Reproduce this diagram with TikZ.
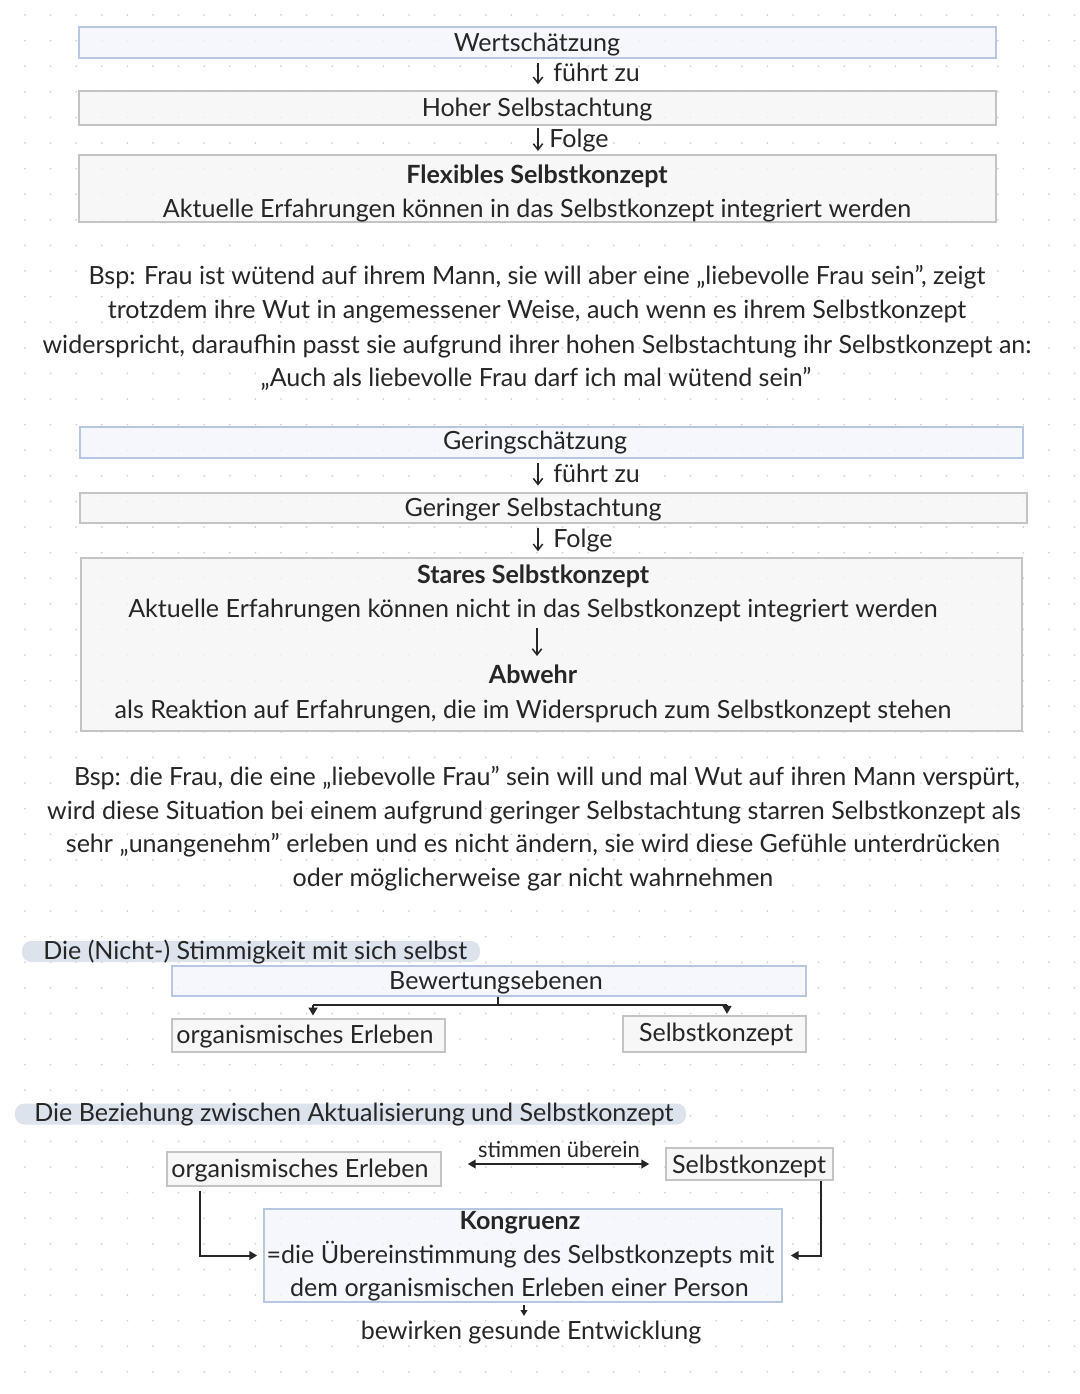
\documentclass[tikz,border=0pt]{standalone}
\usepackage{fontspec}
\setmainfont{Lato}
\usetikzlibrary{arrows.meta}
\definecolor{ink}{HTML}{262626}
\definecolor{bluebd}{HTML}{B7C7E2}
\definecolor{bluefill}{HTML}{F2F5FB}
\definecolor{graybd}{HTML}{C4C4C4}
\definecolor{grayfill}{HTML}{F5F5F5}
\definecolor{hlc}{HTML}{DDE3EC}
\definecolor{dotc}{HTML}{D2D2D2}
\begin{document}
\begin{tikzpicture}[x=0.75pt,y=-0.75pt,
  boxb/.style 2 args={draw=bluebd, fill=bluefill, fill opacity=0.75, line width=1.1pt, inner sep=0pt, minimum width={#1*0.75pt}, minimum height={#2*0.75pt}},
  boxg/.style 2 args={draw=graybd, fill=grayfill, fill opacity=0.75, line width=1.1pt, inner sep=0pt, minimum width={#1*0.75pt}, minimum height={#2*0.75pt}},
  hlbox/.style 2 args={fill=hlc, rounded corners=7pt, inner sep=0pt, minimum width={#1*0.75pt}, minimum height={#2*0.75pt}},
  txt/.style={font=\fontsize{18.8}{22}\selectfont, text=ink, inner sep=0pt, anchor=base},
  txtl/.style={txt, anchor=base west},
  small/.style={txt, font=\fontsize{16.5}{19}\selectfont},
  glypharr/.style={draw=ink, line width=1.15pt, -{Straight Barb[length=4.5pt,width=7pt]}},
  conn/.style={draw=ink, line width=1.5pt},
  connarr/.style={conn, -{Triangle[length=6pt,width=6.5pt]}},
  connboth/.style={conn, {Triangle[length=6pt,width=6.5pt]}-{Triangle[length=6pt,width=6.5pt]}}
]
\useasboundingbox (0,0) rectangle (1080,1394);
\fill[white] (0,0) rectangle (1080,1394);
% dot grid
\foreach \i in {0,...,41}{\foreach \j in {0,...,54}{\fill[dotc] (25.6*\i+25,25.6*\j+15) circle[radius=0.75pt];}}

\coordinate (ax) at (538,0);

% ---- stack 1
\node[boxb={917}{31}] (wert) at (537.5,42.5) {};
\node[txt] (wertt) at (537,52) {Wertschätzung};
\node[boxg={917}{34}] (hoher) at (537.5,108) {};
\node[txt] (hohert) at (537,117) {Hoher Selbstachtung};
\draw[glypharr, shorten <=3pt, shorten >=4.5pt] (wert.south -| ax) -- (hoher.north -| ax);
\node[txtl] (fz1) at (553,82) {führt zu};
\node[boxg={917}{67}] (flex) at (537.5,188.5) {};
\draw[glypharr, shorten <=2pt, shorten >=2.5pt] (hoher.south -| ax) -- (flex.north -| ax);
\node[txtl] (fo1) at (549,148) {Folge};
\node[txt] (flext) at (537,184) {\bfseries Flexibles Selbstkonzept};
\node[txt] (flexa) at (537,218) {Aktuelle Erfahrungen können in das Selbstkonzept integriert werden};

% ---- paragraph 1
\node[txt] (p1a) at (537,285) {Bsp: Frau ist wütend auf ihrem Mann, sie will aber eine „liebevolle Frau sein”, zeigt};
\node[txt] (p1b) at (537,319) {trotzdem ihre Wut in angemessener Weise, auch wenn es ihrem Selbstkonzept};
\node[txt] (p1c) at (537,353) {widerspricht, daraufhin passt sie aufgrund ihrer hohen Selbstachtung ihr Selbstkonzept an:};
\node[txt] (p1d) at (536,386) {„Auch als liebevolle Frau darf ich mal wütend sein”};

% ---- stack 2
\node[boxb={943}{31}] (gering) at (551.5,442.5) {};
\node[txt] (geringt) at (535,449) {Geringschätzung};
\node[boxg={947}{30}] (geringer) at (553.5,508) {};
\node[txt] (geringert) at (533,516) {Geringer Selbstachtung};
\draw[glypharr, shorten <=3pt, shorten >=5pt] (gering.south -| ax) -- (geringer.north -| ax);
\node[txtl] (fz2) at (553,482) {führt zu};
\node[boxg={941}{173}] (stares) at (551.5,644.5) {};
\draw[glypharr, shorten <=3pt, shorten >=4.5pt] (geringer.south -| ax) -- (stares.north -| ax);
\node[txtl] (fo2) at (553,547) {Folge};
\node[txt] (st1) at (533,583) {\bfseries Stares Selbstkonzept};
\node[txt] (st2) at (533,617) {Aktuelle Erfahrungen können nicht in das Selbstkonzept integriert werden};
\coordinate (sa) at (537,628);
\coordinate (sb) at (537,656);
\draw[glypharr] (sa) -- (sb);
\node[txt] (st3) at (533,683) {\bfseries Abwehr};
\node[txt] (st4) at (533,718) {als Reaktion auf Erfahrungen, die im Widerspruch zum Selbstkonzept stehen};

% ---- paragraph 2
\node[txt] (p2a) at (547,785) {Bsp: die Frau, die eine „liebevolle Frau” sein will und mal Wut auf ihren Mann verspürt,};
\node[txt] (p2b) at (534,819) {wird diese Situation bei einem aufgrund geringer Selbstachtung starren Selbstkonzept als};
\node[txt] (p2c) at (533,852) {sehr „unangenehm” erleben und es nicht ändern, sie wird diese Gefühle unterdrücken};
\node[txt] (p2d) at (533,886) {oder möglicherweise gar nicht wahrnehmen};

% ---- heading 1
\node[hlbox={458}{21}] (h1bg) at (251,951.5) {};
\node[txtl] (h1) at (43,959) {Die (Nicht-) Stimmigkeit mit sich selbst};

\node[boxb={634}{30}] (bew) at (489,981) {};
\node[txt] (bewt) at (496,989) {Bewertungsebenen};
\node[boxg={273}{33}] (org1) at (308.5,1035.5) {};
\node[txt] (org1t) at (305,1043) {organismisches Erleben};
\node[boxg={183}{36}] (sk1) at (714.5,1034) {};
\node[txt] (sk1t) at (716,1041) {Selbstkonzept};
\coordinate (jm) at (498,1005);
\coordinate (jl) at (313,1005);
\coordinate (jr) at (727,1005);
\draw[conn] (bew.south -| jm) -- (jm);
\draw[conn] (jl) -- (jr);
\draw[connarr, shorten >=2pt] (jl) -- (org1.north -| jl);
\draw[connarr, shorten >=1pt] (jr) -- (sk1.north -| jr);

% ---- heading 2
\node[hlbox={671}{21}] (h2bg) at (350.5,1114) {};
\node[txtl] (h2) at (34,1121) {Die Beziehung zwischen Aktualisierung und Selbstkonzept};

\node[boxg={274}{34}] (org2) at (304,1169) {};
\node[txt] (org2t) at (300,1177) {organismisches Erleben};
\node[boxg={167}{32}] (sk2) at (749.5,1164) {};
\node[txt] (sk2t) at (749,1173) {Selbstkonzept};
\draw[connboth, shorten <=19.5pt, shorten >=12pt] (org2.east |- sk2.west) -- (sk2.west);
\node[small] (stim) at (559,1157) {stimmen überein};

\node[boxb={518}{93}] (kong) at (523,1255.5) {};
\node[txt] (k1) at (520,1229) {\bfseries Kongruenz};
\node[txt] (k2) at (520.5,1263) {=die Übereinstimmung des Selbstkonzepts mit};
\node[txt] (k3) at (519.5,1296) {dem organismischen Erleben einer Person};
\coordinate (cl) at (200,0);
\coordinate (cr) at (821,0);
\draw[connarr, shorten <=3pt, shorten >=4.5pt] (org2.south -| cl) |- (kong.west);
\draw[connarr, shorten >=6pt] (sk2.south -| cr) |- (kong.east);
\coordinate (cb) at (524,0);
\coordinate (cbe) at (524,1316);
\draw[draw=ink, line width=1.1pt, -{Triangle[length=4.5pt,width=5pt]}, shorten <=1.5pt] (kong.south -| cb) -- (cbe);
\node[txt] (bewirk) at (531,1339) {bewirken gesunde Entwicklung};
\end{tikzpicture}
\end{document}
